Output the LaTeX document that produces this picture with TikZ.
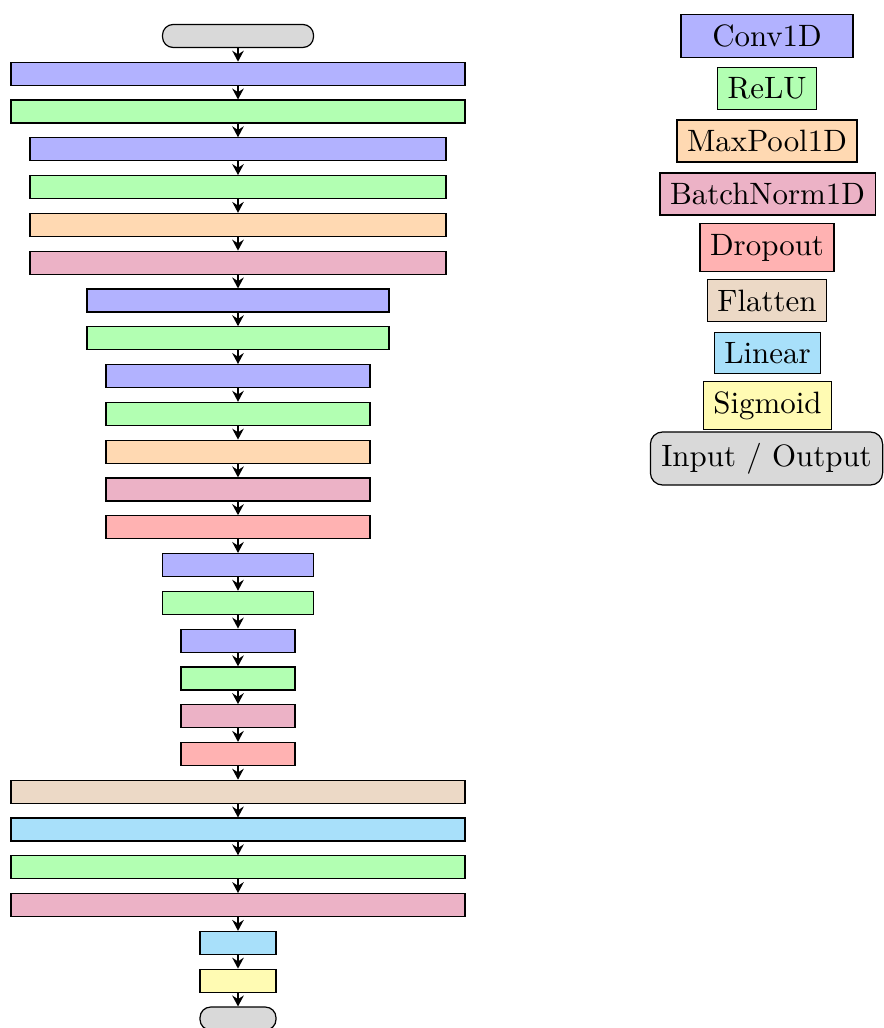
\documentclass[tikz,border=0pt]{standalone}
\usetikzlibrary{arrows.meta}
\definecolor{linblue}{RGB}{168,224,250}
\colorlet{cconv}{blue!30}
\colorlet{crelu}{green!30}
\colorlet{cpool}{orange!30}
\colorlet{cbn}{purple!30}
\colorlet{cdrop}{red!30}
\colorlet{cflat}{brown!30}
\colorlet{clin}{linblue}
\colorlet{csig}{yellow!30}
\colorlet{cio}{gray!30}
\begin{document}
\begin{tikzpicture}[x=0.33pt,y=-0.33pt,
  layer/.style={draw, inner sep=0pt, minimum height=23*0.33pt},
  legend/.style={draw, font=\fontsize{10.2}{12}\selectfont},
  flow/.style={-{Stealth[length=3.6pt,width=3.8pt,inset=1.2pt]}, semithick}]
\useasboundingbox (0,0) rectangle (883,1028);
\foreach \i/\c/\w/\r in {0/cio/151/3.5pt, 1/cconv/454/0pt, 2/crelu/454/0pt,
  3/cconv/416/0pt, 4/crelu/416/0pt, 5/cpool/416/0pt, 6/cbn/416/0pt,
  7/cconv/302/0pt, 8/crelu/302/0pt,
  9/cconv/264/0pt, 10/crelu/264/0pt, 11/cpool/264/0pt, 12/cbn/264/0pt, 13/cdrop/264/0pt,
  14/cconv/151/0pt, 15/crelu/151/0pt,
  16/cconv/114/0pt, 17/crelu/114/0pt, 18/cbn/114/0pt, 19/cdrop/114/0pt,
  20/cflat/454/0pt, 21/clin/454/0pt, 22/crelu/454/0pt, 23/cbn/454/0pt,
  24/clin/76/0pt, 25/csig/76/0pt, 26/cio/76/3.5pt} {
  \node[layer, fill=\c, rounded corners=\r, minimum width=\w*0.33pt] (n\i) at (238,{36+\i*37.79}) {};
}
\foreach \i [evaluate=\i as \j using int(\i+1)] in {0,...,25}
  \draw[flow] (n\i) -- (n\j);
% legend
\node[legend, fill=cconv, minimum width=172*0.33pt] (l1) at (767,36) {Conv1D};
\node[legend, fill=crelu] (l2) at (767,88.5) {ReLU};
\node[legend, fill=cpool] (l3) at (767,141) {MaxPool1D};
\node[legend, fill=cbn] (l4) at (767.5,194) {BatchNorm1D};
\node[legend, fill=cdrop] (l5) at (767,247.5) {Dropout};
\node[legend, fill=cflat] (l6) at (767,300.5) {Flatten};
\node[legend, fill=clin] (l7) at (767.5,353) {Linear};
\node[legend, fill=csig] (l8) at (767.5,405.5) {Sigmoid};
\node[legend, fill=cio, rounded corners=4pt, inner xsep=3.6pt, minimum height=53*0.33pt] (l9) at (766.5,458.5) {Input / Output};
\end{tikzpicture}
\end{document}
